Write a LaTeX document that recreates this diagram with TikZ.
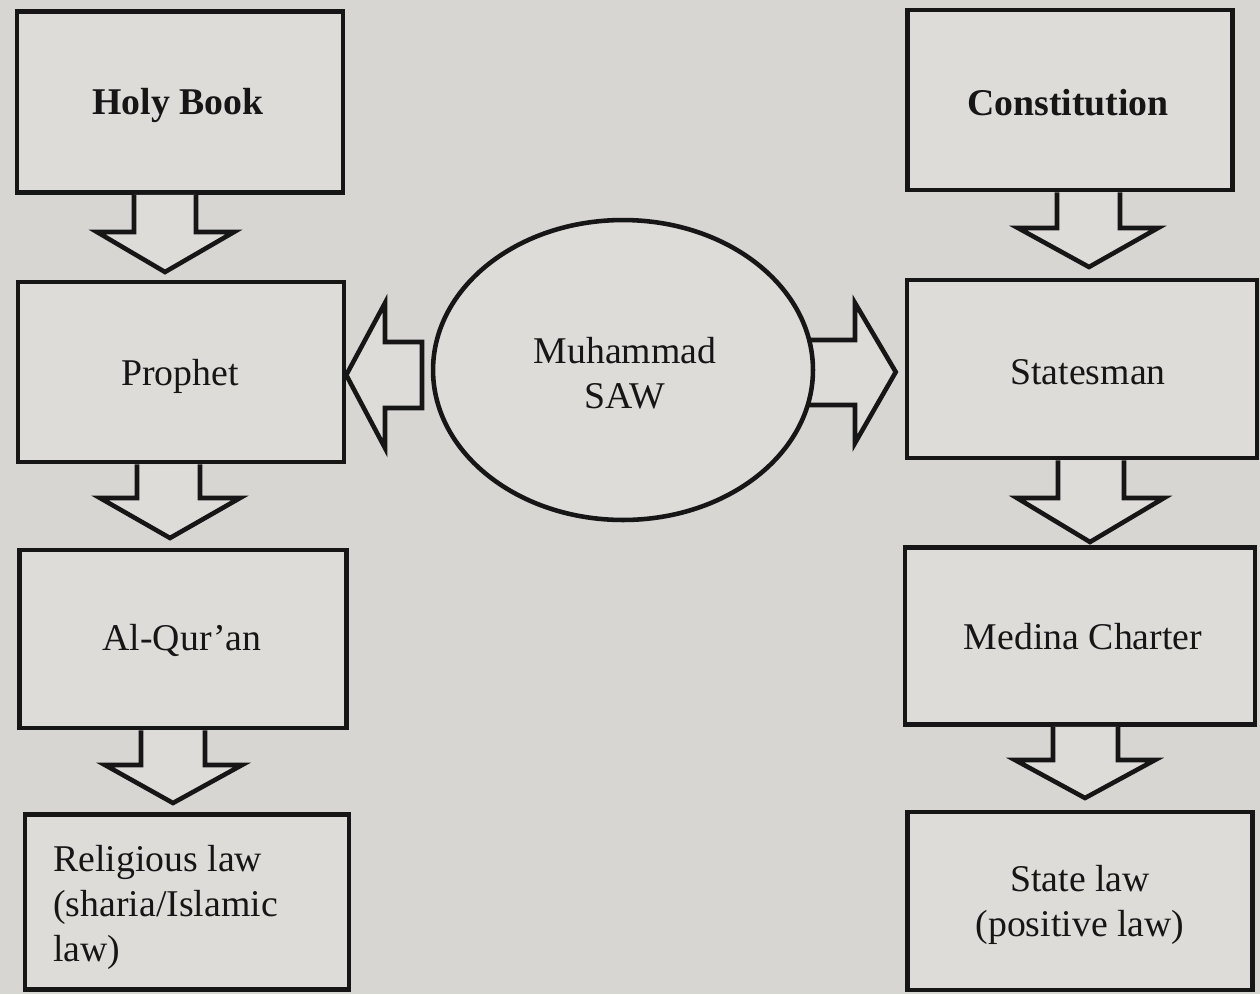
\documentclass[tikz,border=0pt]{standalone}
\usepackage{fontspec}
\setmainfont{Liberation Serif}
\usetikzlibrary{shapes.geometric}
\definecolor{bgc}{RGB}{216,214,211}
\definecolor{boxc}{RGB}{222,220,217}
\definecolor{inkc}{RGB}{22,22,22}
\tikzset{
  bx/.style={draw=inkc, line width=2.6pt, fill=boxc, rectangle, inner sep=0pt},
  blk/.style={draw=inkc, line width=2.6pt, fill=boxc, line join=miter},
  lbl/.style={font=\fontsize{21.5}{25.6}\selectfont, text=inkc, align=center, inner sep=0pt}
}
\begin{document}
\begin{tikzpicture}[x=0.02cm, y=-0.02cm]
\fill[bgc] (0,0) rectangle (1260,994);
\useasboundingbox (0,0) rectangle (1260,994);

% left column
\node[bx, minimum width=6.52cm, minimum height=3.62cm] (hb) at (180,102) {};
\node[lbl, font=\fontsize{21.5}{25.6}\selectfont\bfseries] (hbt) at (178,105) {Holy Book};
\node[bx, minimum width=6.52cm, minimum height=3.6cm] (pr) at (181,372) {};
\node[lbl] (prt) at (180,376) {Prophet};
\node[bx, minimum width=6.54cm, minimum height=3.56cm] (aq) at (183,639) {};
\node[lbl] (aqt) at (182,640) {Al-Qur’an};
\node[bx, minimum width=6.48cm, minimum height=3.5cm] (rl) at (187,902) {};
\node[lbl, align=left, anchor=west] (rlt) at (53,907) {Religious law\\(sharia/Islamic\\law)};

% right column
\node[bx, minimum width=6.5cm, minimum height=3.6cm] (co) at (1070,100) {};
\node[lbl, font=\fontsize{21.5}{25.6}\selectfont\bfseries] (cot) at (1068,103) {Constitution};
\node[bx, minimum width=7.0cm, minimum height=3.56cm] (st) at (1082,369) {};
\node[lbl] (stt) at (1088,372) {Statesman};
\node[bx, minimum width=7.0cm, minimum height=3.54cm] (mc) at (1080,636) {};
\node[lbl] (mct) at (1083,637) {Medina Charter};
\node[bx, minimum width=6.9cm, minimum height=3.56cm] (sl) at (1080,901) {};
\node[lbl] (slt) at (1080,905) {State law\\(positive law)};

% right block arrow (its shaft runs under the ellipse)
\draw[blk] (780,340) -- (855,340) -- (855,303) -- ([xshift=-0.18cm]st.west |- 0,372) -- (855,443) -- (855,405) -- (780,405);

% centre ellipse
\node[draw=inkc, line width=2.6pt, fill=boxc, ellipse, minimum width=7.6cm, minimum height=6.0cm, inner sep=0pt] (el) at (623,370) {};
\node[lbl] (elt) at (625,373) {Muhammad\\SAW};

% down block arrows, left
\draw[blk] (134,0 |- hb.south) -- (134,232) -- (97,232) -- (165,272) -- (234,232) -- (196,232) -- (196,0 |- hb.south);
\draw[blk] (137,0 |- pr.south) -- (137,498) -- (100,498) -- (170,538) -- (240,498) -- (200,498) -- (200,0 |- pr.south);
\draw[blk] (141,0 |- aq.south) -- (141,765) -- (105,765) -- (173,803) -- (242,765) -- (205,765) -- (205,0 |- aq.south);

% down block arrows, right
\draw[blk] (1057,0 |- co.south) -- (1057,228) -- (1018,228) -- (1089,267) -- (1158,228) -- (1120,228) -- (1120,0 |- co.south);
\draw[blk] (1058,0 |- st.south) -- (1058,498) -- (1017,498) -- (1090,542) -- (1164,498) -- (1124,498) -- (1124,0 |- st.south);
\draw[blk] (1053,0 |- mc.south) -- (1053,760) -- (1015,760) -- (1085,798) -- (1155,760) -- (1118,760) -- (1118,0 |- mc.south);

% left block arrow
\draw[blk] (422,342) -- (385,342) -- (385,303) -- (pr.east |- 0,375) -- (385,448) -- (385,408) -- (422,408) -- cycle;
\end{tikzpicture}
\end{document}
